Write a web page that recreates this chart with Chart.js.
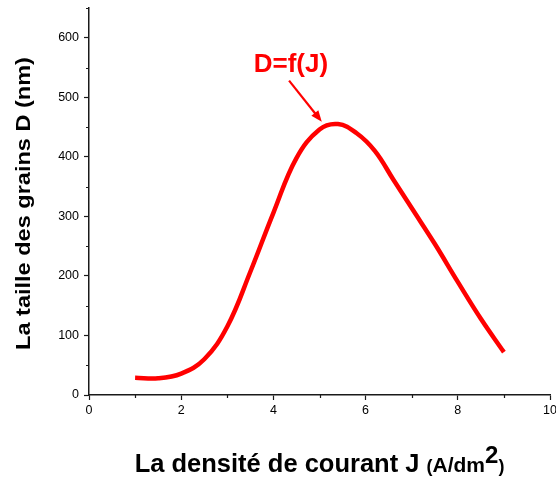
<!DOCTYPE html>
<html>
<head>
<meta charset="utf-8">
<script src="https://cdn.jsdelivr.net/npm/chart.js@4"></script>
<style>
  html, body { margin: 0; padding: 0; background: #fff; }
  #wrap { width: 556px; height: 478px; }
</style>
</head>
<body>
<div id="wrap"><canvas id="chartTaille"></canvas></div>
<script>
// Densité de courant J (A/dm²) et taille des grains D (nm)
const densite = [1, 1.5, 2, 2.5, 3, 3.5, 4, 4.5, 5, 5.4, 5.8, 6.2, 6.6, 7, 7.5, 8, 8.5, 9];
const taille = [29, 28, 36, 60, 115, 207, 306, 398, 446, 455, 440, 410, 362, 314, 254, 190, 128, 72];

const xMinor = [1, 3, 5, 7, 9];
const yMinor = [50, 150, 250, 350, 450, 550, 650];

const police = "'Liberation Sans', Arial, sans-serif";
const axeCouleur = '#1a1a1a';

// ticks mineurs, titres des axes et annotation D=f(J)
const decor = {
  id: 'decor',
  afterDraw(chart) {
    const { ctx, scales: { x, y } } = chart;
    ctx.save();
    ctx.strokeStyle = axeCouleur;
    ctx.lineWidth = 1.2;
    ctx.beginPath();
    xMinor.forEach(v => {
      const px = Math.round(x.getPixelForValue(v)) + 0.5;
      ctx.moveTo(px, y.bottom);
      ctx.lineTo(px, y.bottom + 3);
    });
    yMinor.forEach(v => {
      const py = Math.round(y.getPixelForValue(v)) + 0.5;
      ctx.moveTo(x.left, py);
      ctx.lineTo(x.left - 3, py);
    });
    ctx.stroke();

    // titre y, un peu élargi
    ctx.fillStyle = '#000';
    ctx.save();
    ctx.translate(24, (chart.chartArea.top + chart.chartArea.bottom) / 2 + 2);
    ctx.rotate(-Math.PI / 2);
    ctx.scale(1.12, 1);
    ctx.font = 'bold 21px ' + police;
    ctx.textAlign = 'center';
    ctx.textBaseline = 'middle';
    ctx.fillText('La taille des grains D (nm)', 0, 0);
    ctx.restore();

    // titre x avec unité en plus petit
    const parts = [
      { t: 'La densité de courant J ', f: 'bold 25.5px ' + police, dy: 0 },
      { t: '(', f: 'bold 18px ' + police, dy: 0 },
      { t: 'A/dm', f: 'bold 21px ' + police, dy: 0 },
      { t: '2', f: 'bold 24px ' + police, dy: -9 },
      { t: ')', f: 'bold 18px ' + police, dy: 0 }
    ];
    let total = 0;
    parts.forEach(p => { ctx.font = p.f; p.w = ctx.measureText(p.t).width; total += p.w; });
    let cx = (chart.chartArea.left + chart.chartArea.right) / 2 - total / 2;
    const base = 472;
    ctx.textBaseline = 'alphabetic';
    ctx.textAlign = 'left';
    parts.forEach(p => {
      ctx.font = p.f;
      ctx.fillText(p.t, cx, base + p.dy);
      cx += p.w;
    });

    // annotation
    ctx.fillStyle = '#ff0000';
    ctx.strokeStyle = '#ff0000';
    ctx.font = 'bold 26px ' + police;
    ctx.textAlign = 'center';
    ctx.textBaseline = 'middle';
    ctx.fillText('D=f(J)', x.getPixelForValue(4.38), y.getPixelForValue(555));

    const x0 = x.getPixelForValue(4.34), y0 = y.getPixelForValue(528);
    const x1 = x.getPixelForValue(5.05), y1 = y.getPixelForValue(459);
    const ang = Math.atan2(y1 - y0, x1 - x0);
    const head = 12;
    ctx.lineWidth = 2.2;
    ctx.beginPath();
    ctx.moveTo(x0, y0);
    ctx.lineTo(x1 - Math.cos(ang) * head * 0.8, y1 - Math.sin(ang) * head * 0.8);
    ctx.stroke();
    ctx.beginPath();
    ctx.moveTo(x1, y1);
    ctx.lineTo(x1 - head * Math.cos(ang - 0.38), y1 - head * Math.sin(ang - 0.38));
    ctx.lineTo(x1 - head * Math.cos(ang + 0.38), y1 - head * Math.sin(ang + 0.38));
    ctx.closePath();
    ctx.fill();
    ctx.restore();
  }
};

const ctxTaille = document.getElementById('chartTaille').getContext('2d');
new Chart(ctxTaille, {
  type: 'scatter',
  data: {
    datasets: [
      {
        label: 'D=f(J)',
        data: densite.map((j, i) => ({ x: j, y: taille[i] })),
        showLine: true,
        borderColor: '#ff0000',
        borderWidth: 4.5,
        pointRadius: 0,
        tension: 0.4,
        borderCapStyle: 'butt'
      }
    ]
  },
  options: {
    responsive: true,
    maintainAspectRatio: false,
    animation: false,
    layout: { padding: { top: 8, right: 6, left: 0, bottom: 0 } },
    plugins: {
      legend: { display: false },
      tooltip: { enabled: false }
    },
    scales: {
      x: {
        type: 'linear',
        min: 0,
        max: 10,
        ticks: {
          stepSize: 2,
          includeBounds: false,
          padding: 3,
          color: '#000',
          font: { family: police, size: 12.5 },
          maxRotation: 0
        },
        grid: {
          drawOnChartArea: false,
          drawTicks: true,
          tickLength: 5,
          tickColor: axeCouleur,
          tickWidth: 1.2
        },
        border: { color: axeCouleur, width: 1.5 },
        afterFit(scale) {
          scale.height = 83;
          scale.paddingLeft = 0;
          scale.paddingRight = 0;
        }
      },
      y: {
        min: 0,
        max: 650,
        ticks: {
          stepSize: 100,
          includeBounds: false,
          padding: 5,
          color: '#000',
          font: { family: police, size: 12.5 }
        },
        grid: {
          drawOnChartArea: false,
          drawTicks: true,
          tickLength: 5,
          tickColor: axeCouleur,
          tickWidth: 1.2
        },
        border: { color: axeCouleur, width: 1.5 },
        afterFit(scale) {
          scale.width = 89;
          scale.paddingTop = 0;
          scale.paddingBottom = 0;
        }
      }
    }
  },
  plugins: [decor]
});
</script>
</body>
</html>
